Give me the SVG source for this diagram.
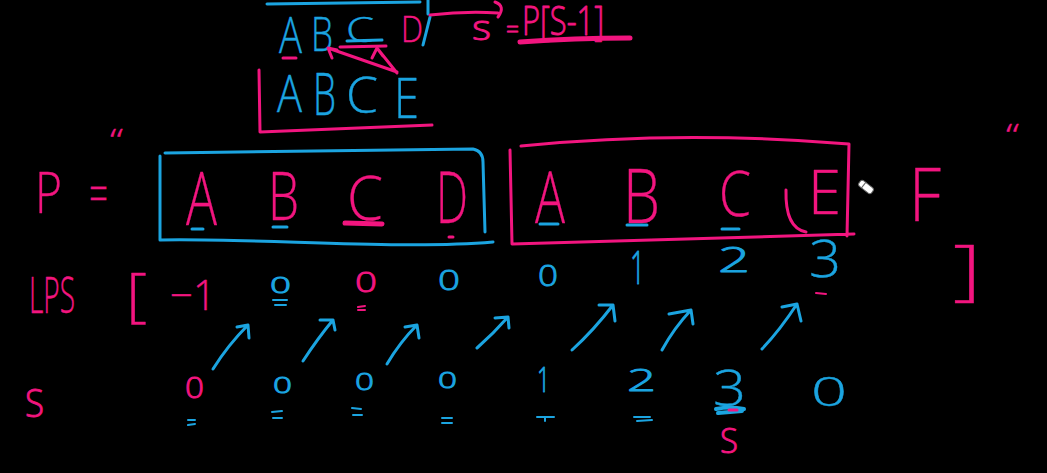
<svg xmlns="http://www.w3.org/2000/svg" width="1047" height="473" viewBox="0 0 1047 473">
<style>
.t{font-family:"Open Sans","DejaVu Sans",sans-serif;font-weight:300;stroke-width:0.4;stroke-linejoin:round}
.p{fill:#f2157f;stroke:#f2157f}
.b{fill:#1ba4e0;stroke:#1ba4e0}
.sm{stroke-width:0.9}
.ps{fill:none;stroke:#f2157f;stroke-width:3;stroke-linecap:round;stroke-linejoin:round}
.bs{fill:none;stroke:#1ba4e0;stroke-width:3;stroke-linecap:round;stroke-linejoin:round}
.thin{stroke-width:2}
</style>
<rect width="1047" height="473" fill="#000"/>

<g id="top-note">
  <path class="bs" d="M267,4 L420,2 M428,0 L428,14 M430,17 L423,45"/>
  <text class="t b" x="279" y="53" font-size="50" textLength="23" lengthAdjust="spacingAndGlyphs">A</text>
  <text class="t b" x="311" y="51" font-size="47" textLength="22" lengthAdjust="spacingAndGlyphs">B</text>
  <text class="t b" x="346" y="42" font-size="34" textLength="28" lengthAdjust="spacingAndGlyphs">C</text>
  <path class="bs" d="M347,41 L382,40"/>
  <text class="t p" x="401" y="42" font-size="37" textLength="22" lengthAdjust="spacingAndGlyphs">D</text>
  <path class="ps" d="M283,58 L296,58 M340,47 L386,46"/>
  <text class="t p sm" x="472" y="40" font-size="34" textLength="19" lengthAdjust="spacingAndGlyphs">s</text>
  <text class="t p sm" x="506" y="38" font-size="26" textLength="13" lengthAdjust="spacingAndGlyphs">=</text>
  <text class="t p sm" x="522" y="35" font-size="40" textLength="82" lengthAdjust="spacingAndGlyphs">P[S-1]</text>
  <path class="ps" style="stroke-width:5" d="M520,42 Q575,38 630,38"/>
  <text class="t b" x="277" y="112" font-size="52" textLength="25" lengthAdjust="spacingAndGlyphs">A</text>
  <text class="t b" x="313" y="115" font-size="59" textLength="23" lengthAdjust="spacingAndGlyphs">B</text>
  <text class="t b" x="346" y="113" font-size="49" textLength="32" lengthAdjust="spacingAndGlyphs">C</text>
  <text class="t b" x="394" y="118" font-size="56" textLength="25" lengthAdjust="spacingAndGlyphs">E</text>
  <path class="ps" d="M259,70 L260,132 L432,125"/>
</g>

<g id="pattern-row">
  <text class="t p" x="110" y="151" font-size="32" textLength="13" lengthAdjust="spacingAndGlyphs">“</text>
  <text class="t p" x="1006" y="146" font-size="32" textLength="13" lengthAdjust="spacingAndGlyphs">“</text>
  <text class="t p" x="35" y="213" font-size="57" textLength="27" lengthAdjust="spacingAndGlyphs">P</text>
  <text class="t p" x="89" y="213" font-size="55" textLength="19" lengthAdjust="spacingAndGlyphs">=</text>
  <g id="box-abcd">
    <path class="bs" d="M165,153 L473,149 Q483,151 483,162 L485,232 M160,156 L160,240 C260,238 400,250 493,242"/>
    <text class="t p" x="186" y="225" font-size="73" textLength="31" lengthAdjust="spacingAndGlyphs">A</text>
    <text class="t p" x="268" y="220" font-size="67" textLength="31" lengthAdjust="spacingAndGlyphs">B</text>
    <text class="t p" x="347" y="220" font-size="60" textLength="36" lengthAdjust="spacingAndGlyphs">C</text>
    <text class="t p" x="436" y="223" font-size="71" textLength="32" lengthAdjust="spacingAndGlyphs">D</text>
    <path class="bs" d="M192,229 L203,229 M273,227 L287,227"/>
    <path class="ps" style="stroke-width:5" d="M345,223 L382,224"/>
    <path class="ps" d="M449,237 L453,237"/>
  </g>
  <g id="box-abce">
    <path class="ps" d="M510,150 L512,244 L854,234 M521,146 Q680,130 849,144 L847,236"/>
    <text class="t p" x="535" y="223" font-size="71" textLength="30" lengthAdjust="spacingAndGlyphs">A</text>
    <text class="t p" x="623" y="223" font-size="76" textLength="37" lengthAdjust="spacingAndGlyphs">B</text>
    <text class="t p" x="719" y="216" font-size="62" textLength="32" lengthAdjust="spacingAndGlyphs">C</text>
    <text class="t p" x="808" y="214" font-size="60" textLength="33" lengthAdjust="spacingAndGlyphs">E</text>
    <path class="ps" d="M786,190 Q785,228 806,232"/>
    <path class="bs" d="M540,224 L558,224 M627,225 L647,225 M722,229 L739,229"/>
  </g>
  <g id="cursor" transform="translate(866,187) rotate(38)">
    <rect x="-8" y="-3.5" width="16" height="7" rx="2.5" fill="#fff" stroke="#666" stroke-width="1"/>
    <path d="M-3,-3.5 L-3,3.5" stroke="#666" stroke-width="1"/>
  </g>
  <text class="t p" x="909" y="221" font-size="73" textLength="32" lengthAdjust="spacingAndGlyphs">F</text>
</g>

<g id="lps-row">
  <text class="t p" x="29" y="313" font-size="50" textLength="46" lengthAdjust="spacingAndGlyphs">LPS</text>
  <text class="t p" x="126" y="315" font-size="58" textLength="21" lengthAdjust="spacingAndGlyphs">[</text>
  <text class="t p" x="170" y="310" font-size="42" textLength="46" lengthAdjust="spacingAndGlyphs">−1</text>
  <text class="t b sm" x="270" y="293" font-size="22" textLength="21" lengthAdjust="spacingAndGlyphs">0</text>
  <path class="bs thin" d="M273,300 L287,300 M275,305 L286,305"/>
  <text class="t p sm" x="355" y="292" font-size="28" textLength="22" lengthAdjust="spacingAndGlyphs">0</text>
  <path class="ps thin" d="M358,307 L365,306 M358,310 L365,310"/>
  <text class="t b sm" x="438" y="290" font-size="28" textLength="22" lengthAdjust="spacingAndGlyphs">0</text>
  <text class="t b sm" x="538" y="286" font-size="29" textLength="20" lengthAdjust="spacingAndGlyphs">0</text>
  <text class="t b sm" x="630" y="284" font-size="46" textLength="15" lengthAdjust="spacingAndGlyphs">1</text>
  <text class="t b sm" x="718" y="272" font-size="35" textLength="32" lengthAdjust="spacingAndGlyphs">2</text>
  <text class="t b" x="809" y="277" font-size="52" textLength="32" lengthAdjust="spacingAndGlyphs">3</text>
  <path class="ps thin" d="M816,293 L826,294"/>
  <text class="t p" x="953" y="293" font-size="66" textLength="28" lengthAdjust="spacingAndGlyphs">]</text>
</g>

<g id="s-row">
  <text class="t p sm" x="25" y="417" font-size="38" textLength="19" lengthAdjust="spacingAndGlyphs">S</text>
  <text class="t p sm" x="185" y="398" font-size="29" textLength="19" lengthAdjust="spacingAndGlyphs">0</text>
  <text class="t b sm" x="273" y="393" font-size="22" textLength="19" lengthAdjust="spacingAndGlyphs">0</text>
  <text class="t b sm" x="355" y="390" font-size="24" textLength="19" lengthAdjust="spacingAndGlyphs">0</text>
  <text class="t b sm" x="438" y="388" font-size="22" textLength="19" lengthAdjust="spacingAndGlyphs">0</text>
  <text class="t b sm" x="537" y="392" font-size="34" textLength="13" lengthAdjust="spacingAndGlyphs">1</text>
  <text class="t b sm" x="627" y="391" font-size="32" textLength="29" lengthAdjust="spacingAndGlyphs">2</text>
  <text class="t b" x="713" y="406" font-size="50" textLength="33" lengthAdjust="spacingAndGlyphs">3</text>
  <text class="t b" x="811" y="406" font-size="41" textLength="36" lengthAdjust="spacingAndGlyphs">0</text>
  <text class="t p sm" x="720" y="453" font-size="34" textLength="18" lengthAdjust="spacingAndGlyphs">S</text>
  <path class="bs thin" d="M188,420 L195,420 M188,425 L195,424 M272,412 L282,411 M273,418 L282,418 M352,408 L361,409 M353,415 L362,415 M442,418 L452,418 M442,423 L452,423 M537,417 L554,417 M545,417 L545,421 M634,417 L650,417 M637,421 L652,420"/>
  <path class="bs" style="stroke-width:4" d="M716,409 Q730,406 744,409 M718,413 L742,411"/>
  <path class="ps" d="M729,410 L737,410"/>
</g>

<g id="connectors">
  <path class="ps" d="M430,15 Q465,11 498,13 M495,2 Q506,6 498,17"/>
  <path class="ps" d="M397,72 L328,48 M337,50 L328,48 L332,58 M397,73 L377,48 M372,58 L377,48 L383,56"/>
  <path class="bs" d="M213,369 Q228,345 248,325 M237,327 L248,325 L249,338"/>
  <path class="bs" d="M303,361 Q318,338 333,320 M320,320 L333,320 L335,330"/>
  <path class="bs" d="M387,364 Q400,342 417,325 M405,327 L417,325 L419,338"/>
  <path class="bs" d="M477,348 Q493,334 508,317 M495,318 L508,317 L509,328"/>
  <path class="bs" d="M572,350 Q594,330 613,305 M599,305 L613,305 L615,321"/>
  <path class="bs" d="M662,350 Q674,328 691,310 M669,314 L691,310 L693,324"/>
  <path class="bs" d="M762,349 Q780,330 797,304 M782,307 L797,304 L801,321"/>
</g>
</svg>
